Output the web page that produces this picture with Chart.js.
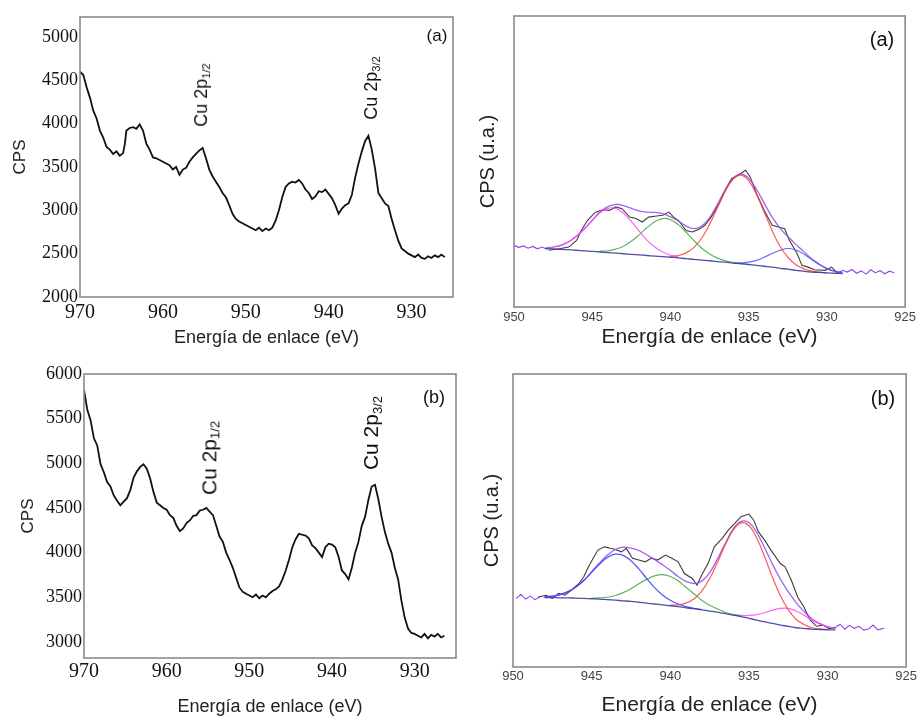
<!DOCTYPE html>
<html>
<head>
<meta charset="utf-8">
<script src="https://cdn.jsdelivr.net/npm/chart.js@4.4.0/dist/chart.umd.min.js"></script>
<style>
  body { margin: 0; background: #fff; }
  #fig { position: relative; width: 919px; height: 716px; overflow: hidden; font-family: "Liberation Sans", Arial, sans-serif; }
  #fig canvas { position: absolute; }
  .lbl { position: absolute; color: #111; white-space: nowrap; transform: translate(-50%, -50%); line-height: 1; }
  .rot { transform: translate(-50%, -50%) rotate(-90deg); }
  .lbl sub { font-size: 62%; vertical-align: -0.25em; }
</style>
</head>
<body>
<div id="fig">
  <canvas id="c1" width="460" height="350" style="left:0;top:0"></canvas>
  <canvas id="c2" width="459" height="350" style="left:460px;top:0"></canvas>
  <canvas id="c3" width="460" height="375" style="left:0;top:345px"></canvas>
  <canvas id="c4" width="459" height="375" style="left:460px;top:345px"></canvas>

  <div class="lbl" style="left:437px;top:35px;font-size:17px">(a)</div>
  <div class="lbl rot" style="left:202px;top:95px;font-size:18px">Cu 2p<sub>1/2</sub></div>
  <div class="lbl rot" style="left:372px;top:88px;font-size:18px">Cu 2p<sub>3/2</sub></div>
  <div class="lbl" style="left:882px;top:39px;font-size:20px">(a)</div>

  <div class="lbl" style="left:434px;top:397px;font-size:18px">(b)</div>
  <div class="lbl rot" style="left:210px;top:458px;font-size:21px">Cu 2p<sub>1/2</sub></div>
  <div class="lbl rot" style="left:372px;top:433px;font-size:21px">Cu 2p<sub>3/2</sub></div>
  <div class="lbl" style="left:883px;top:398px;font-size:20px">(b)</div>
</div>
<script>
// ---- espectros generales (izquierda) ----
var eA = [970.0,969.6,969.2,968.8,968.4,968.0,967.6,967.2,966.8,966.4,966.0,965.6,965.2,964.8,964.6,964.4,964.0,963.6,963.2,962.8,962.4,962.0,961.6,961.2,960.8,960.4,960.0,959.6,959.2,958.8,958.4,958.0,957.6,957.2,956.8,956.4,956.0,955.6,955.2,954.8,954.4,954.0,953.6,953.2,952.8,952.4,952.0,951.6,951.2,950.8,950.4,950.0,949.6,949.2,948.8,948.4,948.0,947.6,947.2,946.8,946.4,946.0,945.6,945.2,944.8,944.4,944.0,943.6,943.2,942.8,942.4,942.0,941.6,941.2,940.8,940.4,940.0,939.6,939.2,938.8,938.4,938.0,937.6,937.2,936.8,936.4,936.0,935.6,935.2,934.8,934.4,934.0,933.6,933.2,932.8,932.4,932.0,931.6,931.2,930.8,930.4,930.0,929.6,929.2,928.8,928.4,928.0,927.6,927.2,926.8,926.4,926.0];
var cpsA = [4600,4560,4420,4300,4150,4060,3920,3840,3730,3700,3650,3680,3630,3660,3760,3920,3950,3960,3940,3990,3920,3770,3700,3610,3600,3580,3560,3540,3520,3470,3500,3410,3470,3490,3560,3610,3650,3690,3720,3600,3470,3390,3330,3270,3200,3150,3060,2960,2900,2870,2850,2830,2810,2790,2770,2800,2760,2790,2770,2800,2880,3000,3150,3270,3310,3330,3320,3350,3310,3240,3200,3130,3160,3220,3210,3240,3190,3140,3060,2960,3020,3060,3080,3180,3380,3540,3680,3800,3860,3700,3480,3200,3140,3080,3050,2900,2770,2650,2560,2530,2500,2480,2460,2490,2450,2440,2470,2450,2480,2460,2490,2460];

var eB = [970.0,969.6,969.2,968.8,968.4,968.0,967.6,967.2,966.8,966.4,966.0,965.6,965.2,964.8,964.4,964.0,963.6,963.2,962.8,962.4,962.0,961.6,961.2,960.8,960.4,960.0,959.6,959.2,958.8,958.4,958.0,957.6,957.2,956.8,956.4,956.0,955.6,955.2,954.8,954.4,954.0,953.6,953.2,952.8,952.4,952.0,951.6,951.2,950.8,950.4,950.0,949.6,949.2,948.8,948.4,948.0,947.6,947.2,946.8,946.4,946.0,945.6,945.2,944.8,944.4,944.0,943.6,943.2,942.8,942.4,942.0,941.6,941.2,940.8,940.4,940.0,939.6,939.2,938.8,938.4,938.0,937.6,937.2,936.8,936.4,936.0,935.6,935.2,934.8,934.4,934.0,933.6,933.2,932.8,932.4,932.0,931.6,931.2,930.8,930.4,930.0,929.6,929.2,928.8,928.4,928.0,927.6,927.2,926.8,926.4];
var cpsB = [5820,5600,5480,5280,5200,4990,4900,4790,4740,4640,4580,4530,4570,4610,4700,4840,4910,4960,4990,4940,4830,4680,4560,4530,4500,4480,4420,4390,4300,4240,4270,4330,4360,4410,4420,4470,4480,4500,4460,4420,4300,4180,4120,4000,3920,3830,3720,3610,3560,3540,3520,3500,3530,3490,3520,3500,3540,3570,3590,3620,3700,3800,3920,4060,4150,4210,4200,4190,4160,4080,4050,4000,3950,4060,4100,4090,4060,3950,3800,3760,3700,3830,4000,4120,4300,4400,4590,4740,4760,4600,4400,4230,4100,4000,3830,3700,3460,3270,3150,3100,3090,3070,3050,3090,3040,3080,3060,3090,3050,3070];

var ticksLeftA = [2000, 2500, 3000, 3500, 4000, 4500, 5000];
var ticksLeftB = [3000, 3500, 4000, 4500, 5000, 5500, 6000];

// ---- deconvolución Cu 2p3/2 (derecha), u.a. ----
var rawEA = [947.8,947.1,946.5,946.0,945.7,945.3,944.8,944.3,943.9,943.5,943.1,942.6,942.2,941.8,941.4,941.0,940.5,940.1,939.8,939.5,939.0,938.6,938.2,937.8,937.4,936.9,936.5,936.1,935.7,935.2,934.9,934.5,934.0,933.5,933.1,932.7,932.4,931.9,931.6,931.2,930.8,930.1,929.7,929.3];
var rawA = [19.5,20.0,20.6,22.9,26.3,29.8,32.6,33.4,33.2,34.4,33.8,30.9,30.4,29.2,30.9,31.2,31.5,32.6,30.9,29.8,26.3,25.8,26.6,28.1,30.9,35.5,40.1,44.1,45.2,47.0,44.7,38.9,33.2,28.1,27.5,26.9,22.9,18.3,14.3,13.7,12.8,12.6,13.7,11.5];
var tailLeftEA = [950.0,949.7,949.4,949.1,948.8,948.5,948.2,947.9];
var tailLeftA = [21.2,20.5,21.0,20.2,20.8,20.0,20.6,19.8];
var tailRightEA = [929.3,929.0,928.7,928.4,928.1,927.8,927.5,927.2,926.9,926.6,926.3,926.0,925.7];
var tailRightA = [11.5,12.6,12.0,12.9,11.6,12.4,11.3,12.8,11.8,12.5,11.4,12.3,11.8];

var fitEA = [948,947.5,947,946.5,946,945.5,945,944.5,944,943.5,943,942.5,942,941.5,941,940.5,940,939.5,939,938.5,938,937.5,937,936.5,936,935.5,935,934.5,934,933.5,933,932.5,932,931.5,931,930.5,930,929.5,929];
var baseA = [20.1,20.0,19.8,19.7,19.5,19.3,19.1,18.9,18.7,18.5,18.3,18.1,17.9,17.7,17.5,17.3,17.1,16.9,16.6,16.4,16.1,15.9,15.6,15.4,15.1,14.9,14.6,14.3,14.0,13.7,13.3,13.0,12.6,12.3,12.0,11.9,11.7,11.6,11.5];
var envA = [20.3,20.6,21.2,22.4,24.4,26.9,29.8,32.7,34.5,35.3,34.8,33.9,33.0,32.6,32.5,32.1,31.0,29.6,27.8,26.9,27.8,30.7,35.3,40.3,44.2,45.7,44.2,40.4,35.6,30.9,27.1,24.2,21.6,19.2,16.7,14.8,13.2,12.3,11.8];
var magA = [20.6,21.2,22.4,24.3,26.8,29.7,32.4,33.9,33.9,32.2,29.4,26.1,23.0,20.6,18.9,17.8,17.2];          // desde 947.5
var greenA = [19.2,19.3,19.9,20.9,22.6,24.8,27.3,29.3,30.4,30.0,28.3,25.7,22.8,20.2,18.2,16.8,15.9,15.3,14.9,14.6]; // desde 944.5
var redA = [17.4,17.7,18.6,20.5,23.7,28.4,34.1,39.7,43.9,45.3,43.4,38.7,32.5,26.2,20.9,17.1,14.6,13.2,12.3,12.0,11.7]; // desde 940
var blueA = [15.2,15.2,15.4,16.0,17.1,18.4,19.5,20.1,19.6,18.3,16.4,14.6,13.2,12.3,11.8];                 // desde 936

var rawEB = [948.4,947.9,947.5,947.1,946.7,946.3,945.8,945.5,945.2,944.9,944.6,944.2,943.8,943.5,943.1,942.8,942.4,942.0,941.6,941.2,940.8,940.3,939.9,939.5,939.1,938.6,938.3,938.0,937.6,937.2,936.7,936.3,935.9,935.5,935.0,934.7,934.4,934.0,933.6,933.0,932.7,932.3,931.9,931.5,931.1,930.7,930.3,929.9,929.5];
var rawB = [23.9,24.5,23.4,25.1,24.5,26.2,28.5,30.8,34.2,37.1,39.9,41.0,40.5,40.1,39.3,40.5,37.1,36.5,35.9,37.1,36.5,38.2,37.1,35.9,31.9,30.2,27.9,31.4,35.3,41.0,43.9,46.8,49.0,51.3,52.2,50.2,46.2,43.3,39.9,35.3,34.2,29.6,23.9,20.5,16.0,13.9,14.3,13.1,13.5];
var tailLeftEB = [949.8,949.5,949.2,948.9,948.6,948.3];
var tailLeftB = [23.4,24.8,23.2,24.2,23.0,23.9];
var tailRightEB = [929.5,929.2,928.9,928.6,928.3,928.0,927.7,927.4,927.1,926.8,926.4];
var tailRightB = [13.5,14.6,12.9,14.2,13.2,13.9,12.6,13.0,14.3,12.7,13.2];

var fitEB = [948,947.5,947,946.5,946,945.5,945,944.5,944,943.5,943,942.5,942,941.5,941,940.5,940,939.5,939,938.5,938,937.5,937,936.5,936,935.5,935,934.5,934,933.5,933,932.5,932,931.5,931,930.5,930,929.5];
var baseB = [23.7,23.7,23.6,23.6,23.5,23.4,23.3,23.2,23.0,22.8,22.6,22.4,22.1,21.8,21.5,21.2,20.9,20.6,20.2,19.9,19.5,19.1,18.7,18.2,17.7,17.2,16.6,16.0,15.4,14.9,14.3,13.9,13.4,13.2,12.9,12.8,12.7,12.7];
var envB = [23.9,24.2,24.7,25.7,27.3,29.5,32.5,35.5,38.2,40.1,40.9,40.6,39.8,38.3,36.7,34.9,33.0,30.9,29.2,28.5,29.3,32.1,36.8,42.2,47.1,49.7,49.3,45.9,40.7,35.1,30.0,25.7,22.0,19.0,16.5,14.9,13.8,13.1];
var blueB = [23.9,24.2,24.7,25.7,27.3,29.5,32.3,35.1,37.4,38.5,38.1,36.3,33.5,30.2,27.1,24.6,22.8,21.5,20.6,20.0,19.6];  // desde 948
var greenB = [23.5,23.6,23.8,24.4,25.4,26.7,28.4,29.9,31.1,31.5,30.9,29.4,27.2,25.0,22.8,21.1,19.8,18.7,17.9,17.3]; // desde 945
var redB = [21.1,21.2,21.8,23.2,25.9,30.1,35.7,41.7,46.7,49.2,48.3,44.0,37.6,30.6,24.3,19.6,16.3,14.5,13.4,13.0,12.8]; // desde 940
var magB = [17.9,17.6,17.6,17.9,18.5,19.4,20.0,20.0,19.1,17.7,16.0,14.7,13.7,13.1];                          // desde 936

// ---- utilidades ----
function pts(xs, ys, start) {
    start = start || 0;
    return ys.map(function(y, i) { return { x: xs[start + i], y: y }; });
}

function serie(data, color, width, tension) {
    return { data: data, borderColor: color, borderWidth: width, pointRadius: 0, fill: false, tension: tension || 0 };
}

var marco = {
    id: 'marco',
    afterDraw: function(chart) {
        var a = chart.chartArea, ctx = chart.ctx;
        ctx.save();
        ctx.strokeStyle = '#8a8a8a';
        ctx.lineWidth = 1.6;
        ctx.strokeRect(a.left, a.top, a.right - a.left, a.bottom - a.top);
        ctx.restore();
    }
};

function graficoGeneral(id, datos, yMin, yMax, tickVals, g) {
    return new Chart(document.getElementById(id), {
        type: 'line',
        data: { datasets: [serie(datos, '#111', 1.8)] },
        plugins: [marco],
        options: {
            responsive: false,
            animation: false,
            layout: { padding: { left: 0, top: g.top, right: g.right, bottom: 0 } },
            plugins: { legend: { display: false }, tooltip: { enabled: false } },
            scales: {
                x: {
                    type: 'linear', reverse: true, min: 925, max: 970,
                    grid: { display: false, drawTicks: false }, border: { display: false },
                    ticks: { stepSize: 10, includeBounds: false, padding: g.xPad, maxRotation: 0, color: '#111',
                             font: { family: 'Liberation Serif', size: 20 }, callback: function(v) { return String(v); } },
                    title: { display: true, text: 'Energía de enlace (eV)', color: '#222',
                             font: { family: 'Liberation Sans', size: 18 }, padding: { top: 0, bottom: g.titleBottom } },
                    afterFit: function(s) { s.height = g.xH; }
                },
                y: {
                    min: yMin, max: yMax,
                    grid: { display: false, drawTicks: false }, border: { display: false },
                    afterBuildTicks: function(s) { s.ticks = tickVals.map(function(v) { return { value: v }; }); },
                    ticks: { padding: 2, color: '#111', font: { family: 'Liberation Serif', size: 18 },
                             callback: function(v) { return String(v); } },
                    title: { display: true, text: 'CPS', color: '#222',
                             font: { family: 'Liberation Sans', size: 17 }, padding: { top: g.yTitle, bottom: 0 } },
                    afterFit: function(s) { s.width = g.yW; }
                }
            }
        }
    });
}

function graficoAjuste(id, sets, g) {
    return new Chart(document.getElementById(id), {
        type: 'line',
        data: { datasets: sets },
        plugins: [marco],
        options: {
            responsive: false,
            animation: false,
            layout: { padding: { left: 0, top: g.top, right: g.right, bottom: 0 } },
            plugins: { legend: { display: false }, tooltip: { enabled: false } },
            scales: {
                x: {
                    type: 'linear', reverse: true, min: 925, max: 950,
                    grid: { display: false, drawTicks: false }, border: { display: false },
                    ticks: { stepSize: 5, padding: g.xPad, maxRotation: 0, color: '#444',
                             font: { family: 'Liberation Sans', size: 13 }, callback: function(v) { return String(v); } },
                    title: { display: true, text: 'Energía de enlace (eV)', color: '#222',
                             font: { family: 'Liberation Sans', size: 21 }, padding: { top: 0, bottom: g.titleBottom } },
                    afterFit: function(s) { s.height = g.xH; }
                },
                y: {
                    min: 0, max: 100,
                    grid: { display: false, drawTicks: false }, border: { display: false },
                    ticks: { display: false },
                    title: { display: true, text: 'CPS (u.a.)', color: '#222',
                             font: { family: 'Liberation Sans', size: 20 }, padding: { top: g.yTitle, bottom: 0 } },
                    afterFit: function(s) { s.width = g.yW; }
                }
            }
        }
    });
}

var violeta = 'rgba(150, 70, 240, 0.85)';
var cola = 'rgba(130, 50, 230, 0.9)';

graficoGeneral('c1', pts(eA, cpsA), 2000, 5230, ticksLeftA,
    { top: 17, right: 7, xH: 53, yW: 80, xPad: 4, titleBottom: 1, yTitle: 10 });
graficoGeneral('c3', pts(eB, cpsB), 2820, 6000, ticksLeftB,
    { top: 29, right: 4, xH: 62, yW: 84, xPad: 2, titleBottom: 2, yTitle: 18 });

graficoAjuste('c2', [
    serie(pts(fitEA, baseA), 'rgba(60, 60, 160, 0.9)', 1.3, 0.4),
    serie(pts(fitEA, magA, 1), 'rgba(255, 70, 255, 0.85)', 1.2, 0.4),
    serie(pts(fitEA, greenA, 7), 'rgba(60, 170, 60, 0.85)', 1.2, 0.4),
    serie(pts(fitEA, redA, 16), 'rgba(255, 60, 60, 0.85)', 1.2, 0.4),
    serie(pts(fitEA, blueA, 24), 'rgba(80, 80, 255, 0.85)', 1.2, 0.4),
    serie(pts(fitEA, envA), violeta, 1.3, 0.4),
    serie(pts(rawEA, rawA), 'rgba(40, 40, 40, 0.9)', 1.1),
    serie(pts(tailLeftEA, tailLeftA), cola, 1.1),
    serie(pts(tailRightEA, tailRightA), cola, 1.1)
], { top: 16, right: 11, xH: 43, yW: 54, xPad: 3, yTitle: 16, titleBottom: 0 });

graficoAjuste('c4', [
    serie(pts(fitEB, baseB), 'rgba(60, 60, 160, 0.9)', 1.3, 0.4),
    serie(pts(fitEB, blueB, 0), 'rgba(70, 70, 255, 0.9)', 1.3, 0.4),
    serie(pts(fitEB, greenB, 6), 'rgba(60, 170, 60, 0.85)', 1.2, 0.4),
    serie(pts(fitEB, redB, 16), 'rgba(255, 60, 60, 0.85)', 1.2, 0.4),
    serie(pts(fitEB, magB, 24), 'rgba(255, 70, 255, 0.85)', 1.2, 0.4),
    serie(pts(fitEB, envB), violeta, 1.3, 0.4),
    serie(pts(rawEB, rawB), 'rgba(40, 40, 40, 0.9)', 1.1),
    serie(pts(tailLeftEB, tailLeftB), cola, 1.1),
    serie(pts(tailRightEB, tailRightB), cola, 1.1)
], { top: 29, right: 11, xH: 53, yW: 53, xPad: 2, yTitle: 20, titleBottom: 2 });
</script>
</body>
</html>
